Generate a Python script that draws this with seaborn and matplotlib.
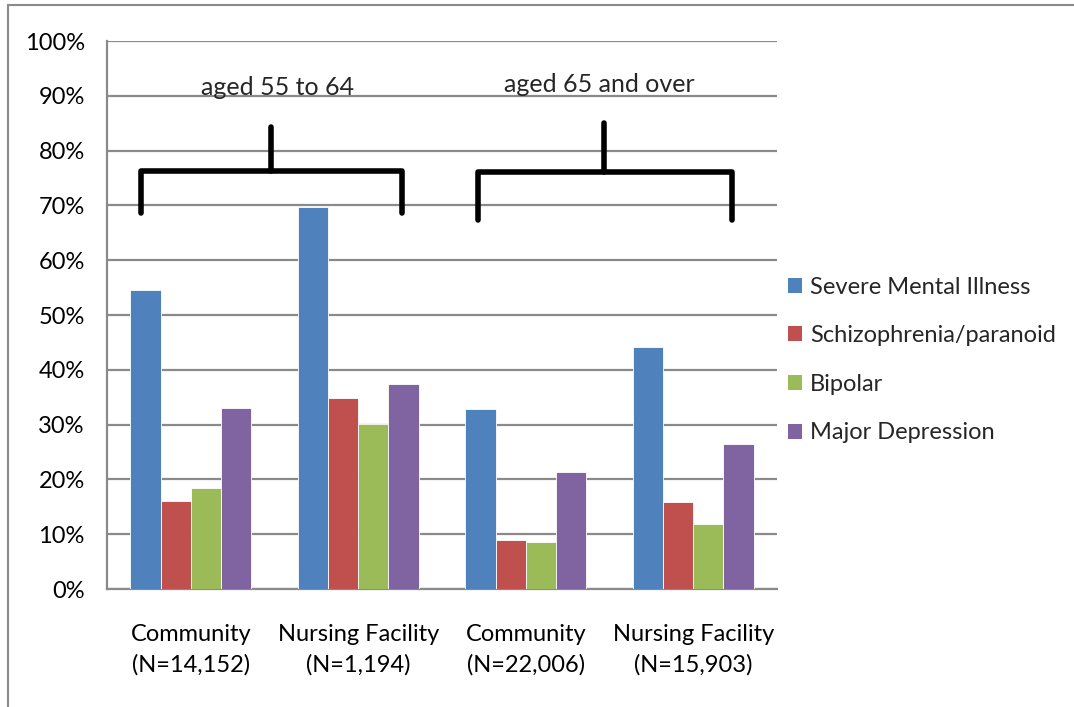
import matplotlib
matplotlib.use("Agg")
import matplotlib.pyplot as plt
import seaborn as sns
import pandas as pd
from matplotlib.lines import Line2D
from matplotlib.patches import Patch

settings = ["Community\n(N=14,152)", "Nursing Facility\n(N=1,194)",
            "Community\n(N=22,006)", "Nursing Facility\n(N=15,903)"]
conditions = ["Severe Mental Illness", "Schizophrenia/paranoid", "Bipolar", "Major Depression"]
severe_mental_illness = [54.6, 69.7, 32.9, 44.2]
schizophrenia = [16.1, 34.8, 9.0, 15.8]
bipolar = [18.4, 30.2, 8.6, 11.8]
major_depression = [33.1, 37.5, 21.4, 26.5]
age_groups = ["aged 55 to 64", "aged 65 and over"]
palette = ["#4F81BD", "#C0504D", "#9BBB59", "#8064A2"]

rows = []
for cond, vals in zip(conditions, [severe_mental_illness, schizophrenia, bipolar, major_depression]):
    for s, v in zip(settings, vals):
        rows.append({"setting": s, "condition": cond, "pct": v})
df = pd.DataFrame(rows)

sns.set_theme(style="white")
plt.rcParams["font.family"] = ["Lato", "DejaVu Sans"]
FS = 17

fig = plt.figure(figsize=(10.74, 7.07), dpi=100)
ax = fig.add_axes([0.0996, 0.1669, 0.6239, 0.7751])

sns.barplot(data=df, x="setting", y="pct", hue="condition", order=settings,
            hue_order=conditions, palette=palette, width=0.72, saturation=1,
            edgecolor="white", linewidth=0.6, legend=False, ax=ax, zorder=3)

ax.set_ylim(0, 100)
ax.set_xlim(-0.5, 3.5)
ax.set_yticks(range(0, 101, 10))
ax.set_yticklabels([f"{t}%" for t in range(0, 101, 10)], fontsize=FS)
ax.set_xticks(range(4))
ax.set_xticklabels(settings, fontsize=FS, linespacing=1.55)
ax.set_xlabel("")
ax.set_ylabel("")
ax.yaxis.grid(True, color="#8a8a8a", linewidth=1.6, zorder=0)
ax.set_axisbelow(True)
for side in ["top", "right"]:
    ax.spines[side].set_visible(False)
for side in ["left", "bottom"]:
    ax.spines[side].set_color("#8a8a8a")
    ax.spines[side].set_linewidth(1.6)
ax.tick_params(axis="y", length=5, width=1.6, color="#8a8a8a", pad=11, labelcolor="black")
ax.tick_params(axis="x", length=0, pad=25, labelcolor="black")

# hand-drawn style braces over each age group
brace_kw = dict(color="black", lw=4, solid_capstyle="round", solid_joinstyle="round",
                clip_on=False, zorder=5)
braces = [(-0.297, 1.261, 0.48, 68.6, 76.3, 84.3),
          (1.715, 3.23, 2.467, 67.3, 76.1, 85.0)]
for x0, x1, xm, ylo, ymid, yhi in braces:
    ax.plot([x0, x0, x1, x1], [ylo, ymid, ymid, ylo], **brace_kw)
    ax.plot([xm, xm], [ymid, yhi], **brace_kw)

ax.text(0.52, 91.6, age_groups[0], ha="center", va="center", fontsize=FS + 1)
ax.text(2.44, 92.1, age_groups[1], ha="center", va="center", fontsize=FS + 1)

handles = [Patch(facecolor=c, edgecolor="none") for c in palette]
fig.legend(handles, conditions, loc="upper left", bbox_to_anchor=(0.7225, 0.6255),
           frameon=False, fontsize=FS, handlelength=0.6, handleheight=0.6,
           handletextpad=0.35, labelspacing=1.17, borderpad=0)

# partial page border
fig.add_artist(Line2D([0.0075, 0.0075], [0.0, 0.993], transform=fig.transFigure,
                      color="#8a8a8a", lw=1.5))
fig.add_artist(Line2D([0.0075, 1.0], [0.993, 0.993], transform=fig.transFigure,
                      color="#8a8a8a", lw=1.5))

fig.savefig("out.png", dpi=100)
